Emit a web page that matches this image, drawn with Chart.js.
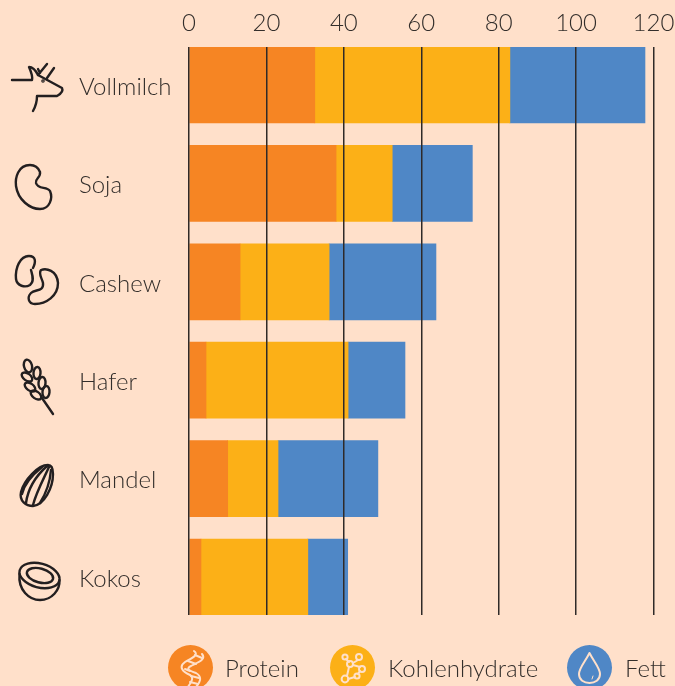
<!DOCTYPE html>
<html lang="de">
<head>
<meta charset="utf-8">
<title>Milch</title>
<script src="https://cdn.jsdelivr.net/npm/chart.js@4"></script>
<style>
    html, body { margin: 0; padding: 0; background: #ffe0ca; overflow: hidden; }
    #page { position: relative; width: 675px; height: 686px; overflow: hidden; }
    #chart { position: absolute; left: 0; top: 0; }
    #icons { position: absolute; left: 0; top: 0; }
    .legendText { position: absolute; top: 654px; font: 300 24px Lato, sans-serif; color: #332e2b; line-height: 28px; }
</style>
</head>
<body>
<div id="page">
    <canvas id="chart" width="675" height="686"></canvas>
    <svg id="icons" width="675" height="686" fill="none" stroke="#231f20" stroke-width="2.4" stroke-linecap="round" stroke-linejoin="round">
        <!-- Vollmilch -->
        <path d="M12 80 H32 Q33 76 29 67 Q34 67 38 75 L62 88 Q64 92 57 96 H37 Q37 104 33 111"/>
        <path d="M38 75 L47 64 M38 69 L40 73 M47 78 L54 68"/>
        <circle cx="43" cy="81" r="0.6"/>
        <!-- Soja -->
        <path d="M30 165 C18 165 15 178 16 186 C18 200 30 209 40 209 C50 209 53 198 50 191 C47 186 38 190 36 183 C35 178 41 178 40 172 C38 167 34 165 30 165 Z"/>
        <!-- Cashew -->
        <path d="M33 268 C36 262 36 256 29 256 C20 256 15 268 16 279 C17 286 25 288 30 285 C35 281 32 274 31 270"/>
        <path d="M41 270 C46 268 57 270 58 283 C58 296 46 304 35 304 C28 304 27 297 31 293 C35 289 44 292 43 283 C42 278 38 274 41 270 Z"/>
        <!-- Hafer -->
        <ellipse cx="28" cy="366" rx="4" ry="6.5" transform="rotate(-15 28 366)"/>
        <ellipse cx="27" cy="377" rx="3.5" ry="6" transform="rotate(-55 27 377)"/>
        <ellipse cx="37" cy="373" rx="3.5" ry="6" transform="rotate(5 37 373)"/>
        <ellipse cx="30" cy="387" rx="3.5" ry="6" transform="rotate(-55 30 387)"/>
        <ellipse cx="42" cy="383" rx="3.5" ry="6" transform="rotate(5 42 383)"/>
        <ellipse cx="36" cy="395" rx="3.5" ry="6" transform="rotate(-55 36 395)"/>
        <ellipse cx="46" cy="392" rx="3.5" ry="6" transform="rotate(5 46 392)"/>
        <path d="M42 398 L53 414"/>
        <!-- Mandel -->
        <path d="M48 465 C38 465 24 480 21 492 C19 501 26 506 33 506 C44 505 53 488 53 474 C53 468 51 465 48 465 Z"/>
        <path d="M47 466 C37 475 28 488 26 503 M49 467 C43 480 36 493 33 505 M51 470 C50 482 45 495 40 503 M42 467 C32 475 24 485 22 494"/>
        <!-- Kokos -->
        <ellipse cx="39.5" cy="575.5" rx="20.5" ry="12" transform="rotate(15 39.5 575.5)"/>
        <ellipse cx="40" cy="575.5" rx="13.5" ry="7" transform="rotate(15 40 575.5)"/>
        <path d="M19.5 574 C18 590 29 600 40 600 C52 600 60 590 59.5 580"/>
        <!-- Legende -->
        <circle cx="190.5" cy="667.5" r="22.5" fill="#f68523" stroke="none"/>
        <circle cx="352.5" cy="667.5" r="22.5" fill="#fcb017" stroke="none"/>
        <circle cx="589.5" cy="667.5" r="22.5" fill="#4f87c6" stroke="none"/>
        <g stroke="#ffe0ca" stroke-width="2">
            <path d="M194 651 C200 655 190 659 185 662 C178 667 183 672 190 675 C194 677 192 682 187 688"/>
            <path d="M202 654 C207 660 196 663 191 666 C185 669 190 671 196 673 C203 677 200 683 195 688"/>
            <path d="M195 655 L202 658 M188 661 L196 664 M185 669 L190 671 M191 676 L199 678 M190 682 L198 684"/>
            <circle cx="345" cy="657" r="2.6"/>
            <circle cx="359" cy="657" r="3"/>
            <circle cx="350" cy="664" r="3"/>
            <circle cx="362" cy="669" r="3"/>
            <circle cx="345" cy="679" r="3.4"/>
            <circle cx="357" cy="676" r="2.6"/>
            <path d="M346 659 L349 662 M358 660 L353 663 M353 665 L360 667 M360 671 L358 674 M355 677 L348 679 M347 676 L349 667"/>
            <path d="M589.5 653 C585 662 579 668 579 674 C579 680 584 683 589.5 683 C595 683 600 680 600 674 C600 668 594 662 589.5 653 Z"/>
            <path d="M593 676 L592 679" stroke-width="1"/>
        </g>
    </svg>
    <div class="legendText" style="left:225px">Protein</div>
    <div class="legendText" style="left:388px">Kohlenhydrate</div>
    <div class="legendText" style="left:625px">Fett</div>
</div>
<script>
const categories = ["Vollmilch", "Soja", "Cashew", "Hafer", "Mandel", "Kokos"];
const protein = [32.5, 38, 13.2, 4.4, 10, 3.1];
const kohlenhydrate = [50.4, 14.5, 23, 36.7, 13, 27.6];
const fett = [34.9, 20.7, 27.6, 14.7, 25.8, 10.3];

function toPoints(values)
{
    return values.map((v, i) => ({ x: v, y: i }));
}

const textColor = "#332e2b";
const ctx = document.getElementById("chart").getContext("2d");
const chart = new Chart(ctx, {
    type: "bar",
    data: {
        datasets: [
            { label: "Protein", data: toPoints(protein), backgroundColor: "#f68523" },
            { label: "Kohlenhydrate", data: toPoints(kohlenhydrate), backgroundColor: "#fcb017" },
            { label: "Fett", data: toPoints(fett), backgroundColor: "#4f87c6" }
        ]
    },
    options: {
        indexAxis: "y",
        responsive: false,
        animation: false,
        barThickness: 76,
        layout: { padding: { left: 79, right: 21.5, top: 0, bottom: 71 } },
        plugins: { legend: { display: false }, tooltip: { enabled: false } },
        scales: {
            x: {
                position: "top",
                stacked: true,
                min: 0,
                max: 120,
                afterFit: (s) => { s.height = 47; s.paddingLeft = 0; s.paddingRight = 0; },
                ticks: {
                    stepSize: 20,
                    maxRotation: 0,
                    padding: 9,
                    color: textColor,
                    font: { family: "Lato", size: 24, weight: 300 }
                },
                border: { display: false },
                grid: { color: "#2f2a28", lineWidth: 1.5, drawTicks: false, z: 1 }
            },
            y: {
                type: "linear",
                reverse: true,
                stacked: true,
                offset: false,
                bounds: "data",
                min: -0.386,
                max: 5.386,
                afterFit: (s) => { s.width = 110; s.paddingTop = 0; s.paddingBottom = 0; },
                afterBuildTicks: (s) => { s.ticks = categories.map((c, i) => ({ value: i })); },
                ticks: {
                    crossAlign: "far",
                    labelOffset: 2,
                    color: textColor,
                    font: { family: "Lato", size: 24, weight: 300 },
                    callback: (v) => categories[v]
                },
                border: { display: false },
                grid: { display: false }
            }
        }
    }
});
</script>
</body>
</html>
